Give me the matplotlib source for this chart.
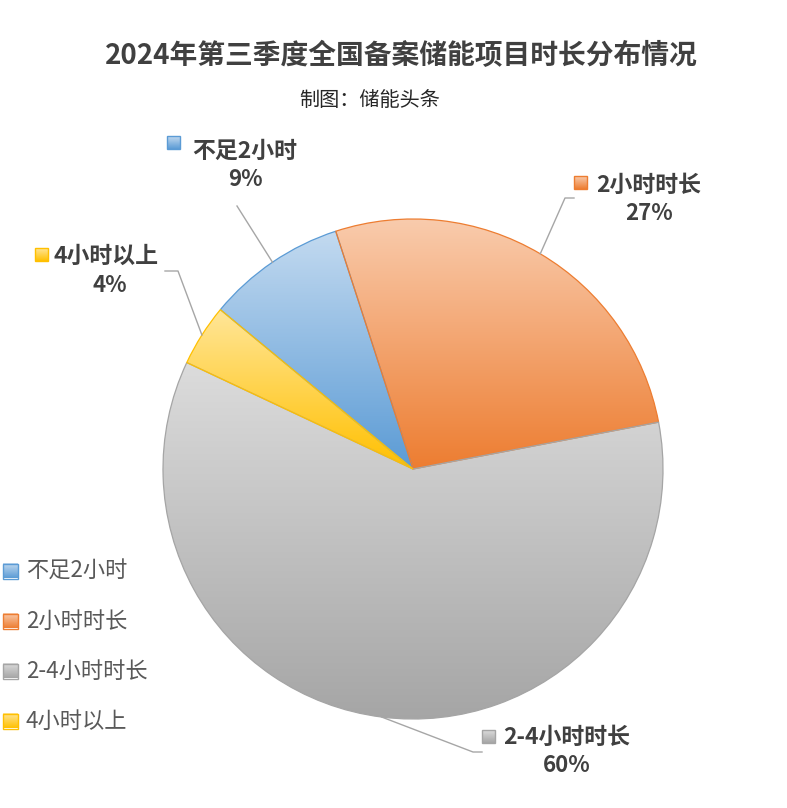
import numpy as np
import matplotlib
matplotlib.use("Agg")
import matplotlib.pyplot as plt
from matplotlib.colors import to_rgb

plt.rcParams['font.family'] = ['Noto Sans CJK SC', 'DejaVu Sans']

# ---- data ----
categories = ['不足2小时', '2小时时长', '2-4小时时长', '4小时以上']
values = [9, 27, 60, 4]
pct_labels = ['9%', '27%', '60%', '4%']
title = '2024年第三季度全国备案储能项目时长分布情况'
subtitle = '制图：储能头条'

base_colors = ['#5b9bd5', '#ed7d31', '#a5a5a5', '#ffc000']
light_colors = ['#c3daf0', '#f9ccae', '#dcdcdc', '#ffe699']

W, H = 787, 808
fig = plt.figure(figsize=(W / 100, H / 100), dpi=100)
fig.patch.set_facecolor('white')

# pie geometry in pixels
cx, cy, R = 413, 469, 250
ax = fig.add_axes([(cx - R) / W, (H - cy - R) / H, 2 * R / W, 2 * R / H])
wedges, _ = ax.pie(values, startangle=140.4, counterclock=False, radius=1,
                   wedgeprops=dict(linewidth=0.9))
ax.set_xlim(-1, 1)
ax.set_ylim(-1, 1)
ax.set_aspect('auto')
ax.axis('off')


def grad_img(top, bottom, n=256):
    t = np.linspace(0, 1, n)[:, None]
    c1 = np.array(to_rgb(top))
    c2 = np.array(to_rgb(bottom))
    return (c1[None, None, :] * (1 - t[..., None]) + c2[None, None, :] * t[..., None])


for w, bc, lc in zip(wedges, base_colors, light_colors):
    w.set_facecolor('none')
    w.set_edgecolor(bc)
    w.set_zorder(3)
    verts = w.get_path().vertices
    x0, x1 = verts[:, 0].min(), verts[:, 0].max()
    y0, y1 = verts[:, 1].min(), verts[:, 1].max()
    img = ax.imshow(np.repeat(grad_img(lc, bc), 2, axis=1), extent=[x0, x1, y0, y1],
                    origin='upper', aspect='auto', zorder=2, interpolation='bilinear')
    img.set_clip_path(w)
ax.set_xlim(-1, 1)
ax.set_ylim(-1, 1)

# overlay axes in pixel coords
ov = fig.add_axes([0, 0, 1, 1], zorder=5)
ov.set_xlim(0, W)
ov.set_ylim(H, 0)
ov.axis('off')
ov.patch.set_alpha(0)


def square(x, y, s, bc, lc):
    ov.imshow(np.repeat(grad_img(lc, bc), 2, axis=1), extent=[x, x + s, y + s, y],
              origin='upper', aspect='auto', zorder=6, interpolation='bilinear')
    ov.add_patch(plt.Rectangle((x, y), s, s, fill=False, edgecolor=bc, lw=1.0, zorder=7))


txt_dark = '#404040'
ov.text(401, 56, title, ha='center', va='center', fontsize=20, fontweight='bold', color=txt_dark)
ov.text(370, 100, subtitle, ha='center', va='center', fontsize=14.5, color='#262626')

# data labels
# (square x, square y, name center x, name y, pct center x, pct y, leader points)
lab_pos = [
    (167, 136, 245, 151, 245, 179, [(237, 206)]),
    (574, 176, 649, 185, 649, 213, [(574, 198), (565, 198)]),
    (482, 730, 567, 737, 567, 765, [(482, 752), (473, 752)]),
    (35, 248, 106, 256, 110, 285, [(165, 271), (178, 271)]),
]

mid = []
ang = 140.4
for v in values:
    a1 = ang - v / sum(values) * 360
    mid.append(np.deg2rad((ang + a1) / 2))
    ang = a1

for i, (sx, sy, nx, ny, px, py, pts) in enumerate(lab_pos):
    square(sx, sy, 13, base_colors[i], light_colors[i])
    ov.text(nx, ny, categories[i], ha='center', va='center', fontsize=16.5,
            fontweight='bold', color=txt_dark)
    ov.text(px, py, pct_labels[i], ha='center', va='center', fontsize=16,
            fontweight='bold', color=txt_dark)
    ex = cx + R * np.cos(mid[i])
    ey = cy - R * np.sin(mid[i])
    xs = [p[0] for p in pts] + [ex]
    ys = [p[1] for p in pts] + [ey]
    ov.plot(xs, ys, color='#a6a6a6', lw=1.0, zorder=4)

# legend
for i, cat in enumerate(categories):
    y = 571 + 50 * i
    square(3, y - 7.5, 15, base_colors[i], light_colors[i])
    ov.text(26, y, cat, ha='left', va='center', fontsize=16, color='#595959')

fig.savefig('out.png', dpi=100, facecolor='white')
